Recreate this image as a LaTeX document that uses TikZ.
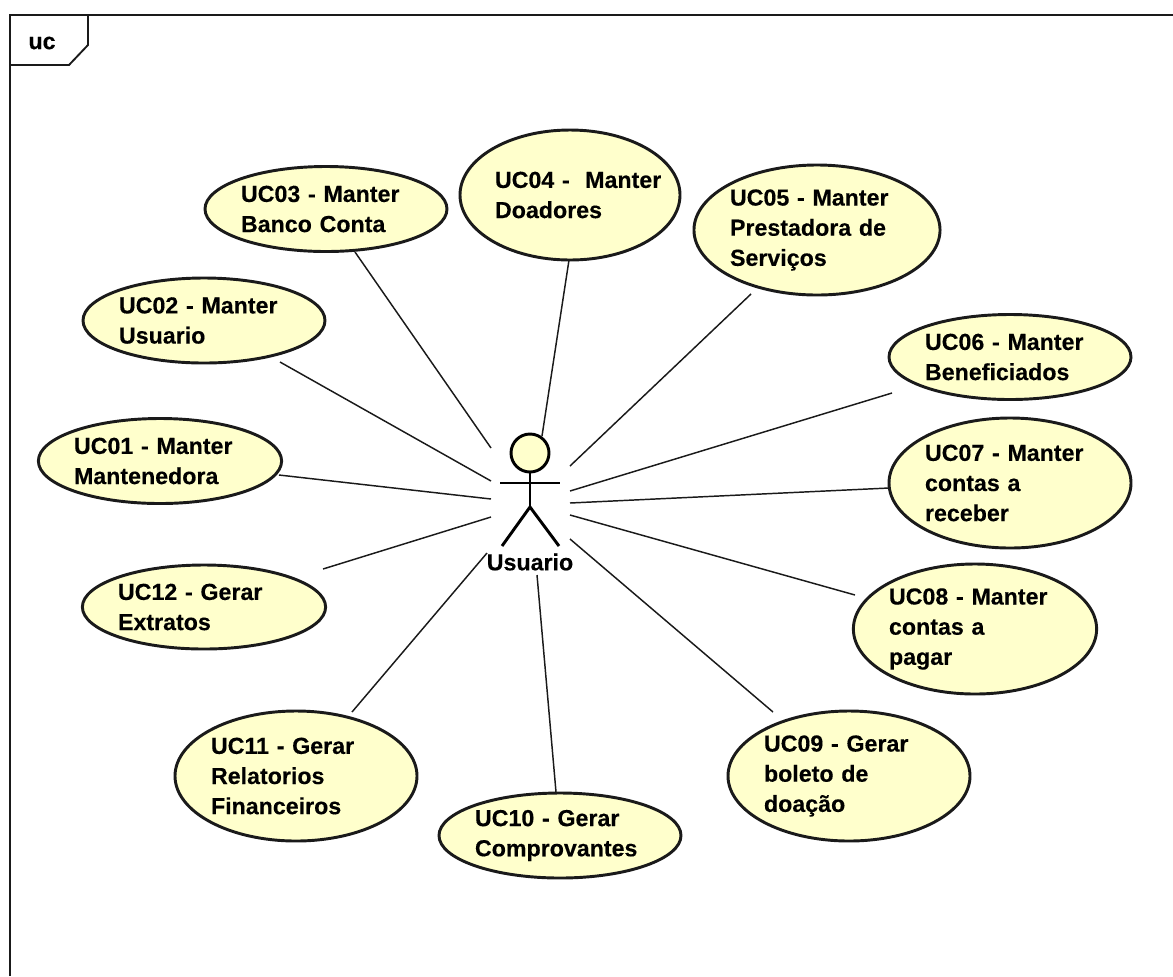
\documentclass[tikz,border=0pt]{standalone}
\usepackage{fontspec}
\setmainfont[BoldFeatures={FakeBold=0.3}]{Liberation Sans}
\usetikzlibrary{shapes.geometric}
\definecolor{ucfill}{HTML}{FFFFCC}
\definecolor{ucline}{HTML}{1A1A1A}
\tikzset{
  x=0.75pt,y=-0.75pt,
  ucase/.style n args={3}{shape=ellipse,draw=ucline,fill=ucfill,line width=2.2pt,
    minimum width=#1*0.75pt,minimum height=#2*0.75pt,inner sep=0pt,outer sep=0pt,
    text width=#3*0.75pt,align=left,font=\bfseries\fontsize{17.4pt}{22.6pt}\selectfont},
  link/.style={draw=ucline,line width=1.1pt},
  frameline/.style={draw=ucline,line width=1.7pt},
  stick/.style={draw=black,line width=2.2pt},
  tagtext/.style={font=\bfseries\fontsize{17.4pt}{20pt}\selectfont,inner sep=0pt},
}
\begin{document}
\begin{tikzpicture}
\useasboundingbox (0,0) rectangle (1173,976);
\fill[white] (0,0) rectangle (1173,976);
% frame
\coordinate (ftl) at (10,15);
\coordinate (ftr) at (1173,15);
\coordinate (fbl) at (10,976);
\draw[frameline] (fbl) -- (ftl) -- (ftr);
\draw[frameline,line width=1.4pt] (10,65) -- (69,65) -- (88,45) -- (88,15);
\node[tagtext] (frametag) at (42,43) {uc};
% use cases
\node[ucase={242}{85}{170}] (u03) at (326,209) {UC03 - Manter\\Banco Conta};
\node[ucase={220}{130}{150}] (u04) at (570,195) {\mbox{UC04 -\ \ Manter}\\Doadores};
\node[ucase={242}{130}{174}] (u05) at (817,230) {UC05 - Manter\\Prestadora de\\Serviços};
\node[ucase={242}{85}{170}] (u02) at (204,320.5) {UC02 - Manter\\Usuario};
\node[ucase={242}{85}{170}] (u06) at (1010,357) {UC06 - Manter\\Beneficiados};
\node[ucase={242}{130}{170}] (u07) at (1010,483) {UC07 - Manter\\contas a\\receber};
\node[ucase={242}{85}{172}] (u01) at (160,461) {UC01 - Manter\\Mantenedora};
\node[ucase={242}{84}{172}] (u12) at (204,607) {UC12 - Gerar\\Extratos};
\node[ucase={242}{130}{172}] (u08) at (975,629) {UC08 - Manter\\contas a\\pagar};
\node[ucase={242}{130}{170}] (u09) at (849,776) {UC09 - Gerar\\boleto de\\doação};
\node[ucase={242}{130}{170}] (u11) at (296,776) {UC11 - Gerar\\Relatorios\\Financeiros};
\node[ucase={242}{85}{170}] (u10) at (560,835.5) {UC10 - Gerar\\Comprovantes};
% actor
\node[draw=black,fill=ucfill,line width=2.2pt,circle,minimum size=38*0.75pt,inner sep=0pt] (head) at (530,453) {};
\coordinate (hip) at (530,507);
\coordinate (arml) at (500,483);
\coordinate (armr) at (560,483);
\coordinate (legl) at (502,546);
\coordinate (legr) at (559,546);
\draw[stick] (head.south) -- (hip);
\draw[stick] (arml) -- (armr);
\draw[stick] (legl) -- (hip) -- (legr);
\node[tagtext] (actor) at (530,562) {Usuario};
% connector ends near the actor
\coordinate (a03) at (491,448);
\coordinate (a04) at (542,436);
\coordinate (a05) at (570,466);
\coordinate (a02) at (491,481);
\coordinate (a01) at (491,499);
\coordinate (a12) at (491,517);
\coordinate (a11) at (487,553);
\coordinate (a10) at (537,575);
\coordinate (a09) at (570,539);
\coordinate (a08) at (570,515);
\coordinate (a07) at (570,503);
\coordinate (a06) at (570,491);
\foreach \n/\dx/\dy in {03/29/43,04/-1/65,05/-66/64,02/76/41.5,01/119/14,12/119/-38,
    11/56/-64,10/-4/-43.5,09/-76/-64,08/-120/-34,07/-121/5,06/-118/36}
  \draw[link] ([shift={(\dx,\dy)}]u\n.center) -- (a\n);
\end{tikzpicture}
\end{document}
